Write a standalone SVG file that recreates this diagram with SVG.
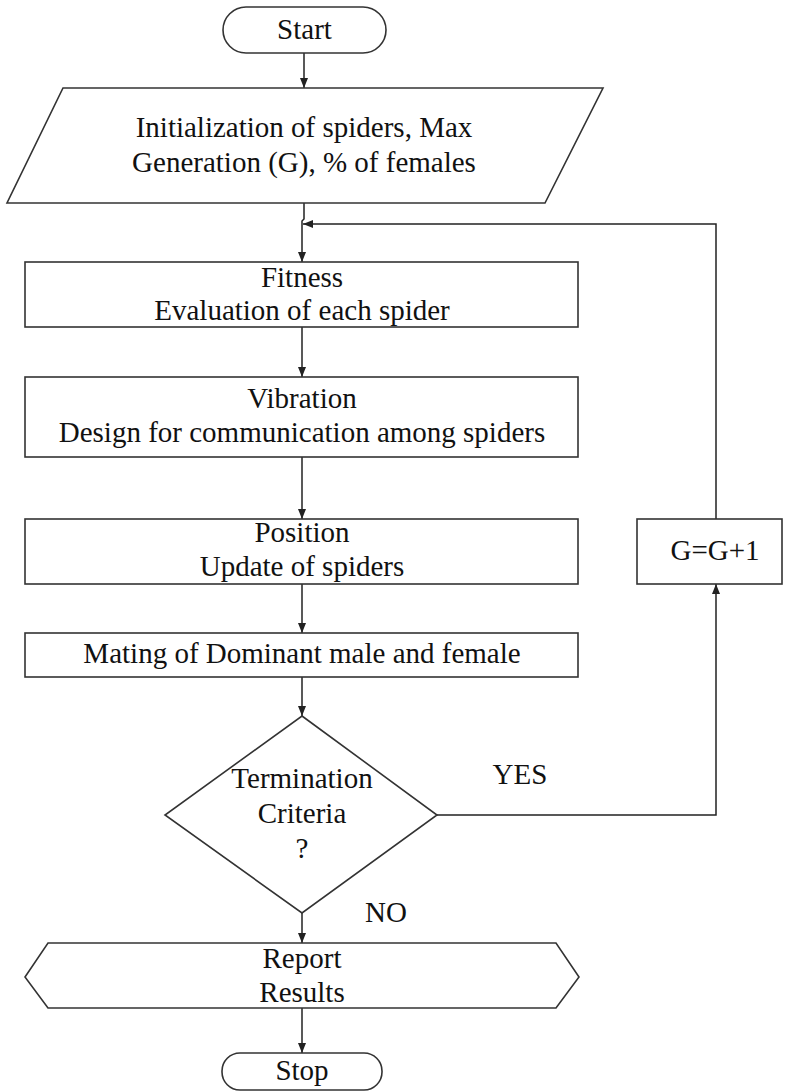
<svg xmlns="http://www.w3.org/2000/svg" width="786" height="1091" viewBox="0 0 786 1091">
<defs>
<marker id="ah" markerWidth="10" markerHeight="8" refX="10" refY="4" orient="auto" markerUnits="userSpaceOnUse">
<path d="M0,0 L10,4 L0,8 z" fill="#222"/>
</marker>
<style>
.s{fill:#fff;stroke:#333;stroke-width:1.6}
.c{fill:none;stroke:#222;stroke-width:1.5}
text{font-family:"Liberation Serif","Times New Roman",serif;font-size:29px;fill:#111;text-anchor:middle}
</style>
</defs>
<rect width="786" height="1091" fill="#fff"/>
<g id="connectors">
<path class="c" d="M304,53 V88" marker-end="url(#ah)"/>
<path class="c" d="M304,203 V219 L302,221 V262" marker-end="url(#ah)"/>
<path class="c" d="M302,327 V377" marker-end="url(#ah)"/>
<path class="c" d="M302,457 V519" marker-end="url(#ah)"/>
<path class="c" d="M302,584 V633" marker-end="url(#ah)"/>
<path class="c" d="M302,677 V716" marker-end="url(#ah)"/>
<path class="c" d="M437,815 H716 V584" marker-end="url(#ah)"/>
<path class="c" d="M716,519 V224 H303" marker-end="url(#ah)"/>
<path class="c" d="M302,913 V943" marker-end="url(#ah)"/>
<path class="c" d="M302,1008 V1053" marker-end="url(#ah)"/>
<text x="520" y="784">YES</text>
<text x="386" y="922">NO</text>
</g>
<g id="start">
<rect class="s" x="223" y="7" width="163" height="46" rx="23"/>
<text x="304.5" y="39">Start</text>
</g>
<g id="init">
<polygon class="s" points="63,88 603,88 545,203 7,203"/>
<text x="304" y="137">Initialization of spiders, Max</text>
<text x="304" y="172">Generation (G), % of females</text>
</g>
<g id="fitness">
<rect class="s" x="25" y="262" width="553" height="65"/>
<text x="302" y="287">Fitness</text>
<text x="302" y="320">Evaluation of each spider</text>
</g>
<g id="vibration">
<rect class="s" x="25" y="377" width="553" height="80"/>
<text x="302" y="408">Vibration</text>
<text x="302" y="442">Design for communication among spiders</text>
</g>
<g id="position">
<rect class="s" x="25" y="519" width="553" height="65"/>
<text x="302" y="542">Position</text>
<text x="302" y="576">Update of spiders</text>
</g>
<g id="gupdate">
<rect class="s" x="637" y="519" width="145" height="65"/>
<text x="715" y="560">G=G+1</text>
</g>
<g id="mating">
<rect class="s" x="25" y="633" width="553" height="44"/>
<text x="302" y="663">Mating of Dominant male and female</text>
</g>
<g id="termination">
<polygon class="s" points="302,716 437,815 302,913 165,815"/>
<text x="302" y="788">Termination</text>
<text x="302" y="823">Criteria</text>
<text x="302" y="858">?</text>
</g>
<g id="report">
<polygon class="s" points="48,943 556,943 579,977 556,1008 48,1008 25,977"/>
<text x="302" y="968">Report</text>
<text x="302" y="1002">Results</text>
</g>
<g id="stop">
<rect class="s" x="222" y="1053" width="160" height="37" rx="18"/>
<text x="302" y="1080">Stop</text>
</g>
</svg>
